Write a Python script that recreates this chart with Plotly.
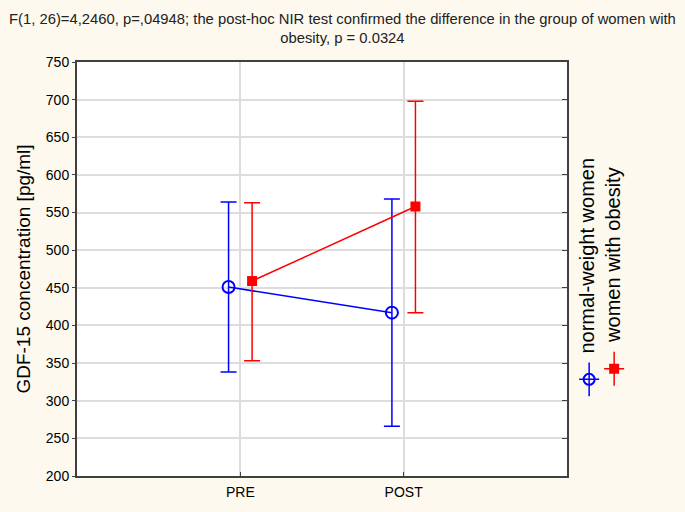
import plotly.graph_objects as go

# dane
categories = ['PRE', 'POST']
normal_mean = [451, 417]
normal_upper = [564, 568]
normal_lower = [338, 266]
obese_mean = [459, 558]
obese_upper = [563, 698]
obese_lower = [353, 417]

cat_pos = [1, 2]
offset = 0.072

fig = go.Figure()

fig.add_trace(go.Scatter(
    x=[p - offset for p in cat_pos], y=normal_mean,
    mode='lines+markers', name='normal-weight women',
    line=dict(color='#0000FF', width=1.5),
    marker=dict(symbol='circle-open', size=12, color='#0000FF', line=dict(width=2)),
    error_y=dict(type='data', symmetric=False,
                 array=[u - m for u, m in zip(normal_upper, normal_mean)],
                 arrayminus=[m - l for m, l in zip(normal_mean, normal_lower)],
                 color='#0000FF', thickness=1.5, width=8),
    showlegend=False,
))
fig.add_trace(go.Scatter(
    x=[p + offset for p in cat_pos], y=obese_mean,
    mode='lines+markers', name='women with obesity',
    line=dict(color='#FF0000', width=1.5),
    marker=dict(symbol='square', size=10, color='#FF0000'),
    error_y=dict(type='data', symmetric=False,
                 array=[u - m for u, m in zip(obese_upper, obese_mean)],
                 arrayminus=[m - l for m, l in zip(obese_mean, obese_lower)],
                 color='#FF0000', thickness=1.5, width=8),
    showlegend=False,
))

# legenda (glify na osobnej osi)
fig.add_trace(go.Scatter(
    x=[0], y=[0.414], xaxis='x2', yaxis='y2', mode='markers',
    marker=dict(symbol='circle-open', size=11, color='#0000FF', line=dict(width=2)),
    error_y=dict(type='constant', value=0.34, color='#0000FF', thickness=1.5, width=0),
    error_x=dict(type='constant', value=0.715, color='#0000FF', thickness=1.5, width=0),
    showlegend=False, hoverinfo='skip',
))
fig.add_trace(go.Scatter(
    x=[1.787], y=[0.626], xaxis='x2', yaxis='y2', mode='markers',
    marker=dict(symbol='square', size=10, color='#FF0000'),
    error_y=dict(type='constant', value=0.34, color='#FF0000', thickness=1.5, width=0),
    error_x=dict(type='constant', value=0.715, color='#FF0000', thickness=1.5, width=0),
    showlegend=False, hoverinfo='skip',
))

# os pomocnicza - kreski po prawej stronie do srodka
fig.add_trace(go.Scatter(x=[None], y=[None], yaxis='y3', showlegend=False, hoverinfo='skip'))

fig.add_annotation(text='normal-weight women', textangle=-90, xref='paper', yref='paper',
                   x=0.875, y=0.533, showarrow=False,
                   font=dict(family='Liberation Sans', size=20, color='black'))
fig.add_annotation(text='women with obesity', textangle=-90, xref='paper', yref='paper',
                   x=0.917, y=0.535, showarrow=False,
                   font=dict(family='Liberation Sans', size=20, color='black'))

fig.add_annotation(text='F(1, 26)=4,2460, p=,04948; the post-hoc NIR test confirmed the difference in the group of women with<br>obesity, p = 0.0324',
                   xref='paper', yref='paper', x=0.444, y=1.082, showarrow=False,
                   xanchor='center', yanchor='middle',
                   font=dict(family='Liberation Sans Narrow, Liberation Sans', size=14.8, color='#222222'))

fig.add_shape(type='rect', xref='x domain', yref='y domain', x0=0, x1=1, y0=0, y1=1,
              fillcolor='white', line=dict(width=0), layer='below')

fig.update_layout(
    width=685, height=512,
    margin=dict(l=77, r=10, t=62, b=36),
    paper_bgcolor='#FDF9EE', plot_bgcolor='rgba(0,0,0,0)',
    xaxis=dict(domain=[0, 0.8194], range=[0, 3], tickvals=cat_pos, ticktext=categories,
               showgrid=True, gridcolor='#DDDDDD', gridwidth=1.5, automargin=False,
               showline=True, linecolor='#404040', linewidth=2, mirror=True,
               ticks='inside', ticklen=4, tickcolor='#404040', zeroline=False,
               ticklabelstandoff=2,
               tickfont=dict(family='Liberation Sans', size=14, color='black')),
    yaxis=dict(range=[200, 750], dtick=50, showgrid=True, gridcolor='#DDDDDD', gridwidth=1.5,
               showline=True, linecolor='#404040', linewidth=2, mirror=True, automargin=False,
               ticks='outside', ticklen=3, tickcolor='#404040', zeroline=False,
               ticklabelstandoff=0,
               title=dict(text='GDF-15 concentration [pg/ml]', standoff=10,
                          font=dict(family='Liberation Sans', size=19, color='black')),
               tickfont=dict(family='Liberation Sans', size=14, color='black')),
    yaxis3=dict(range=[200, 750], dtick=50, overlaying='y', side='right', anchor='x',
                showgrid=False, showline=False, zeroline=False, showticklabels=False,
                ticks='inside', ticklen=5, tickcolor='#404040'),
    xaxis2=dict(domain=[0.833, 0.925], range=[-1, 2.93], visible=False, anchor='y2'),
    yaxis2=dict(domain=[0.1836, 0.304], range=[0, 1], visible=False, anchor='x2'),
)

fig.write_html('out.html', config={'displayModeBar': False},
               post_script="document.body.style.margin='0';")
